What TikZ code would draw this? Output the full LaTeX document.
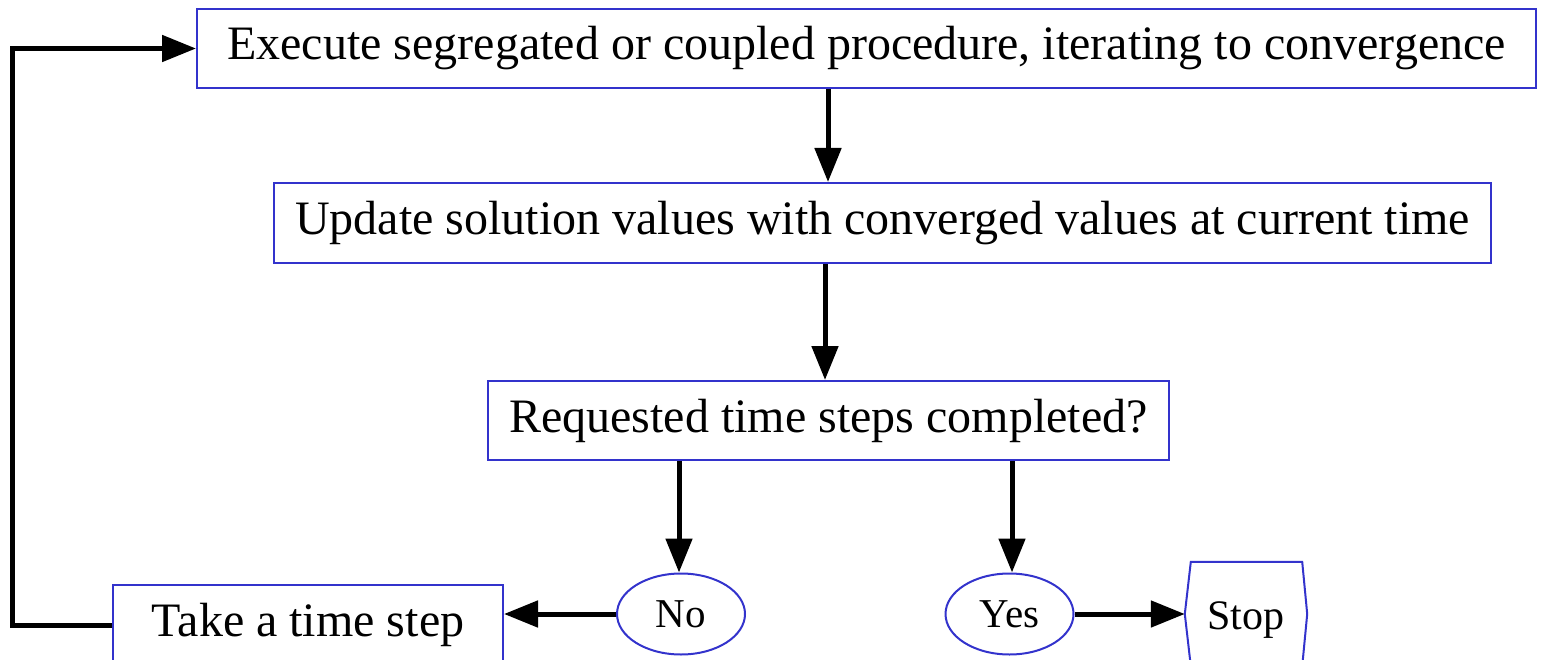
\documentclass[tikz,border=0pt]{standalone}
\usepackage{fontspec}
\setmainfont{Liberation Serif}
\usetikzlibrary{arrows.meta,shapes.geometric}
\definecolor{boxblue}{RGB}{51,51,204}
\tikzset{
  box/.style={draw=boxblue,line width=2pt,rectangle,inner sep=0pt,font=\fontsize{48}{52}\selectfont},
  oval/.style={draw=boxblue,line width=2pt,ellipse,inner sep=0pt,minimum width=128pt,minimum height=81pt,font=\fontsize{41}{46}\selectfont},
  conn/.style={line width=5pt,-{Triangle[length=34pt,width=26pt]}}
}
\begin{document}
\begin{tikzpicture}[x=1pt,y=-1pt]
\useasboundingbox (0,0) rectangle (1554,660);
\begin{scope}
\clip (0,0) rectangle (1554,660);
\node[box,minimum width=1339pt,minimum height=79pt] (exec) at (866.5,48.5) {Execute segregated or coupled procedure, iterating to convergence};
\node[box,minimum width=1217pt,minimum height=80pt] (upd) at (882.5,223) {Update solution values with converged values at current time};
\node[box,minimum width=681pt,minimum height=79pt] (req) at (828.5,420.5) {Requested time steps completed?};
\node[box,minimum width=390pt,minimum height=80pt] (take) at (308,625) {Take a time step};
\node[oval] (no) at (681,614) {No};
\node[oval] (yes) at (1009.5,614) {Yes};
\node[draw=none,inner sep=0pt,minimum width=122pt,minimum height=104pt,text height=30pt,text depth=0pt,font=\fontsize{42}{46}\selectfont] (stop) at (1246,614) {Stop};
\draw[boxblue,line width=2pt] ([xshift=6pt]stop.north west) -- ([xshift=-5pt]stop.north east) -- (stop.east) -- ([xshift=-5pt]stop.south east) -- ([xshift=6pt]stop.south west) -- (stop.west) -- cycle;
\draw[conn] (exec.south -| 828,0) -- (upd.north -| 828,0);
\draw[conn] (upd.south -| 825,0) -- (req.north -| 825,0);
\draw[conn] (req.south -| 679,0) -- (no.north -| 679,0);
\draw[conn] (req.south -| 1012,0) -- (yes.north -| 1012,0);
\draw[conn] (no.west) -- (no.west -| take.east);
\draw[conn] (yes.east) -- (stop.west);
\draw[conn] (take.west) -- (12,625) -- (12,48.5) -- (exec.west);
\end{scope}
\end{tikzpicture}
\end{document}
